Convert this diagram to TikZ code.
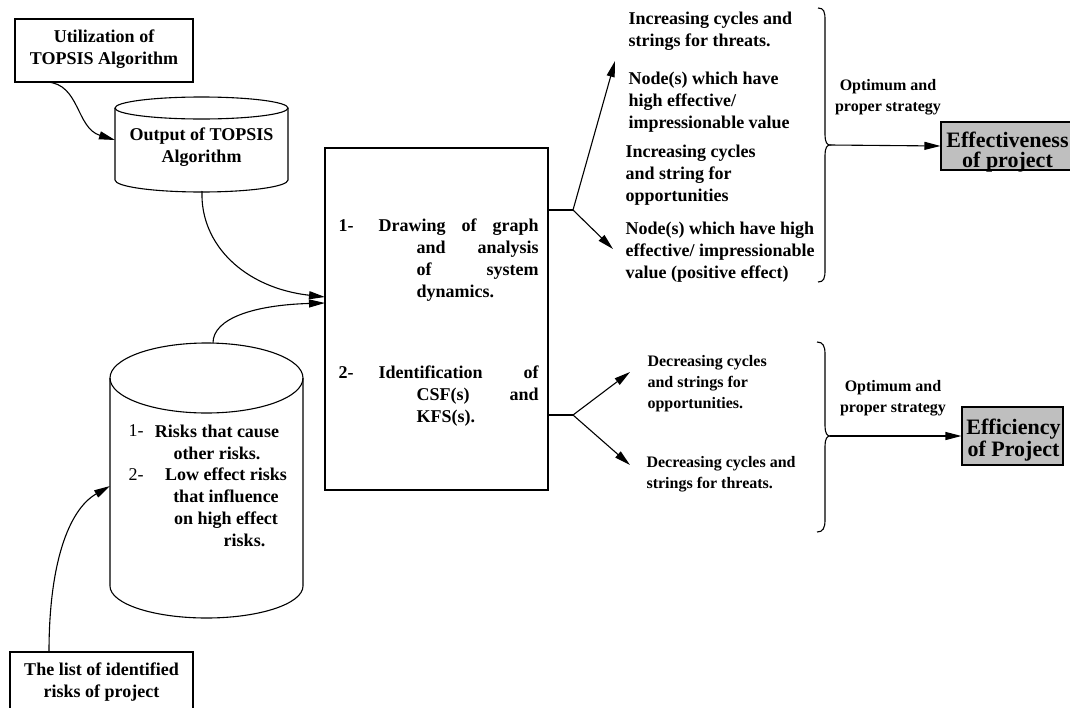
\documentclass[tikz,border=0pt]{standalone}
\usepackage{fontspec}
\setmainfont{Liberation Serif}
\usetikzlibrary{arrows.meta}
\newcommand\myfA{\fontsize{18}{22}\selectfont\bfseries}
\newcommand\myfB{\fontsize{16}{21}\selectfont\bfseries}
\newcommand\myfC{\fontsize{22}{20}\selectfont\bfseries}
\newcommand\myfN{\fontsize{18}{22}\selectfont}
\begin{document}
\begin{tikzpicture}[x=1pt,y=1pt,line width=1.1pt,
  box/.style={draw, inner sep=0pt},
  txt/.style={inner sep=0pt, font=\myfA},
  stxt/.style={inner sep=0pt, font=\myfB},
  arr/.style={-{Triangle[length=16pt,width=8pt]}},
  resbox/.style={draw, fill=gray!50, inner sep=0pt},
  restxt/.style={inner sep=0pt, font=\myfC, align=center}]
\useasboundingbox (0,0) rectangle (1070,-707);

% top-left box
\node[box, minimum width=178pt, minimum height=63pt] (util) at (104,-50.5) {};
\node[txt, align=center] (utilt) at (104,-49) {Utilization of\\TOPSIS Algorithm};

% cylinder 1
\draw (115,-108) -- (115,-180) arc[start angle=180,end angle=360,x radius=86.5,y radius=12] -- (288,-108);
\draw (201.5,-108) ellipse[x radius=86.5,y radius=11];
\node[txt, align=center] (out) at (201.5,-147) {Output of TOPSIS\\Algorithm};
\coordinate (outL) at (115,-140);
\coordinate (outB) at (202,-191);

% cylinder 2
\draw (110,-378) -- (110,-586) arc[start angle=180,end angle=360,x radius=96.5,y radius=32] -- (303,-378);
\draw (206.5,-378) ellipse[x radius=96.5,y radius=35];
\node[inner sep=0pt, font=\myfN, anchor=west] (n1) at (128,-431) {1-};
\node[txt, align=center] (r1) at (217,-442) {Risks that cause\\other risks.};
\node[inner sep=0pt, font=\myfN, anchor=west] (n2) at (128,-475) {2-};
\node[txt, align=center] (r2) at (226,-507.5) {Low effect risks\\that influence\\on high effect\\\hspace*{37pt}risks.};
\coordinate (riskT) at (213,-343);
\coordinate (riskL) at (110,-486);

% bottom box
\node[box, minimum width=183pt, minimum height=70pt] (list) at (101.5,-687) {};
\node[txt, align=center] (listt) at (101.5,-682) {The list of identified\\risks of project};
\coordinate (listT) at (49,-652);

% main box
\node[box, minimum width=223pt, minimum height=342pt] (main) at (436.5,-319) {};
\node[txt, align=left, anchor=west] (m1) at (338,-260) {\makebox[40pt][l]{1-}\makebox[160pt][s]{Drawing of graph}\\
\hspace*{78pt}\makebox[122pt][s]{and analysis}\\
\hspace*{78pt}\makebox[122pt][s]{of system}\\
\hspace*{78pt}dynamics.};
\node[txt, align=left, anchor=west] (m2) at (338,-396) {\makebox[40pt][l]{2-}\makebox[160pt][s]{Identification of}\\
\hspace*{78pt}\makebox[122pt][s]{CSF(s) and}\\
\hspace*{78pt}KFS(s).};
\coordinate (mainA) at (325,-297);
\coordinate (mainB) at (325,-303);
\coordinate (mainR1) at (548,-210);
\coordinate (mainR2) at (548,-415);

% connectors on the left
\coordinate (utilB) at (47,-82);
\draw[arr] (utilB) .. controls (80,-84) and (76,-128) .. (outL);
\draw[arr] (outB) .. controls (200,-245) and (245,-288) .. (mainA);
\draw[arr] (riskT) .. controls (213,-318) and (255,-305) .. (mainB);
\draw[arr] (listT) .. controls (49,-565) and (68,-510) .. (riskL);

% upper right branch
\coordinate (b1) at (573,-210);
\coordinate (b1u) at (615,-61);
\coordinate (b1d) at (613,-249);
\draw (mainR1) -- (b1);
\draw[arr] (b1) -- (b1u);
\draw[arr] (b1) -- (b1d);

\node[txt, align=left, anchor=west] (u1) at (628,-31) {Increasing cycles and\\strings for threats.};
\node[txt, align=left, anchor=west] (u2) at (628,-102.5) {Node(s) which have\\high effective/\\impressionable value};
\node[txt, align=left, anchor=west] (u3) at (625,-175.5) {Increasing cycles\\and string for\\opportunities};
\node[txt, align=left, anchor=west] (u4) at (625,-252) {Node(s) which have high\\effective/ impressionable\\value (positive effect)};

% upper brace
\draw (818,-8) .. controls (824,-8) and (825,-12) .. (825,-20) -- (825,-135)
  .. controls (825,-142) and (827,-145) .. (830,-145)
  .. controls (827,-145) and (825,-148) .. (825,-155) -- (825,-270)
  .. controls (825,-278) and (824,-282) .. (818,-282);
\coordinate (br1) at (830,-145);
\node[stxt, align=center] (opt1) at (888,-97) {Optimum and\\proper strategy};
\node[resbox, minimum width=134pt, minimum height=48pt] (eff) at (1008,-146) {};
\node[restxt] (efft) at (1007.5,-152) {Effectiveness\\of project};
\draw[arr] (br1) -- (eff.west);

% lower right branch
\coordinate (b2) at (573,-415);
\coordinate (b2u) at (630,-372);
\coordinate (b2d) at (630,-465);
\draw (mainR2) -- (b2);
\draw[arr] (b2) -- (b2u);
\draw[arr] (b2) -- (b2d);

\node[stxt, align=left, anchor=west] (l1) at (647,-384) {Decreasing cycles\\and strings for\\opportunities.};
\node[stxt, align=left, anchor=west] (l2) at (646,-474.5) {Decreasing cycles and\\strings for threats.};

% lower brace
\draw (817,-342) .. controls (823,-342) and (825,-346) .. (825,-354) -- (825,-426)
  .. controls (825,-433) and (827,-436) .. (830,-436)
  .. controls (827,-436) and (825,-439) .. (825,-446) -- (825,-520)
  .. controls (825,-528) and (823,-532) .. (817,-532);
\coordinate (br2) at (830,-436);
\node[stxt, align=center] (opt2) at (893,-398) {Optimum and\\proper strategy};
\node[resbox, minimum width=101pt, minimum height=58pt] (effi) at (1012.5,-436) {};
\node[restxt] (effit) at (1013.5,-440) {Efficiency\\of Project};
\draw[arr] (br2) -- (effi.west);
\end{tikzpicture}
\end{document}
